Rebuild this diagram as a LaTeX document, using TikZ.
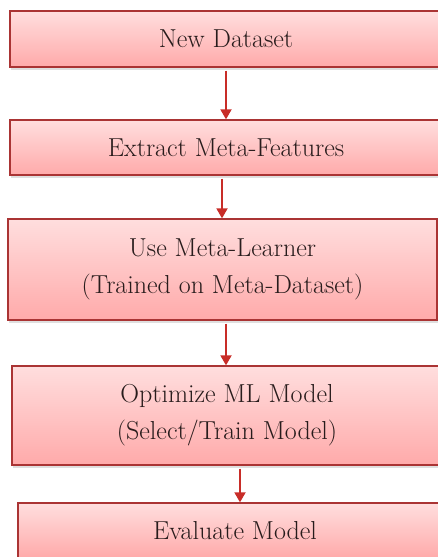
\documentclass[tikz,border=0pt]{standalone}
\usetikzlibrary{shadows,arrows.meta}
\definecolor{boxtop}{RGB}{255,222,222}
\definecolor{boxbot}{RGB}{255,170,170}
\definecolor{boxline}{RGB}{170,52,52}
\definecolor{arrred}{RGB}{200,45,40}
\definecolor{txt}{RGB}{40,28,28}
\tikzset{
  box/.style={rectangle, draw=boxline, line width=1.3pt, top color=boxtop, bottom color=boxbot,
    drop shadow={shadow xshift=1pt, shadow yshift=-3pt, opacity=0.25},
    text=txt, align=center, font=\fontsize{26}{37}\selectfont, inner sep=0pt},
  arr/.style={draw=arrred, line width=1.8pt, -{Triangle[width=11pt,length=10pt]}, shorten <=3pt}
}
\begin{document}
\begin{tikzpicture}[x=1pt,y=-1pt]
\useasboundingbox (0,0) rectangle (438,557);
\node[box, minimum width=432pt, minimum height=56pt] (b1) at (226,39) {New Dataset};
\node[box, minimum width=432pt, minimum height=55pt] (b2) at (226,147.5) {Extract Meta-Features};
\node[box, minimum width=429pt, minimum height=101pt] (b3) at (222.5,269.5) {Use Meta-Learner\\(Trained on Meta-Dataset)};
\node[box, minimum width=430pt, minimum height=99pt] (b4) at (227,415.5) {Optimize ML Model\\(Select/Train Model)};
\node[box, minimum width=434pt, minimum height=55pt] (b5) at (235,530.5) {Evaluate Model};
\coordinate (c1) at (226,0);
\coordinate (c2) at (222,0);
\coordinate (c3) at (226,0);
\coordinate (c4) at (240,0);
\draw[arr] (b1.south -| c1) -- (b2.north -| c1);
\draw[arr] (b2.south -| c2) -- (b3.north -| c2);
\draw[arr] (b3.south -| c3) -- (b4.north -| c3);
\draw[arr] (b4.south -| c4) -- (b5.north -| c4);
\end{tikzpicture}
\end{document}
